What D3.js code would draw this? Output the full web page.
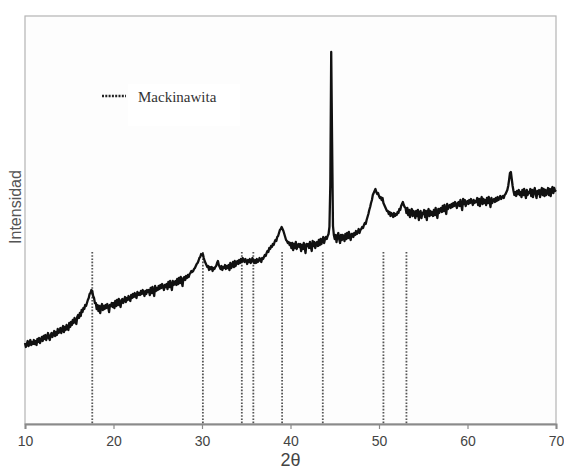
<!DOCTYPE html>
<html lang="es">
<head>
<meta charset="utf-8">
<title>DRX Mackinawita</title>
<script src="https://cdn.jsdelivr.net/npm/d3@7/dist/d3.min.js"></script>
<style>
  body { margin: 0; background: #fff; }
</style>
</head>
<body>
<script>
// patron de difraccion leido a ojo, un valor cada 0.1 grados (10.0 .. 70.0)
var startAngle = 10
var stepAngle = 0.1
var intensity = [
  81,77,80,83,78,80,84,79,82,80,
  84,80,83,79,85,82,86,81,84,87,
  83,88,85,89,84,87,91,86,84,89,
  91,87,90,93,88,92,89,95,91,93,
  96,91,95,98,92,97,94,99,96,94,
  101,97,102,99,104,101,106,103,100,107,
  109,106,111,108,114,112,116,115,119,118,
  121,124,126,130,131,134,133,128,126,121,
  121,115,119,113,118,111,117,120,114,118,
  115,119,116,120,117,112,119,118,121,117,
  121,116,123,118,124,119,125,120,117,124,
  125,121,124,127,122,126,124,128,125,123,
  129,126,130,127,131,128,126,132,129,131,
  129,133,130,134,131,128,133,130,134,132,
  134,129,136,131,137,132,128,138,133,136,
  134,138,135,139,136,140,137,134,139,137,
  140,135,142,137,143,138,134,143,139,141,
  143,139,145,140,146,141,147,142,138,146,
  147,144,148,146,149,147,150,151,153,152,
  153,155,156,158,160,161,163,166,167,170,
  169,170,166,163,161,159,157,158,154,157,
  155,157,153,156,155,157,158,161,163,159,
  157,155,158,154,157,156,159,155,158,156,
  159,154,161,156,158,162,157,163,158,161,
  163,160,164,161,165,162,166,164,162,165,
  163,160,164,162,165,161,163,166,163,161,
  164,161,165,162,163,166,164,162,166,165,
  167,169,168,171,173,172,176,175,178,177,
  180,179,182,184,183,187,188,191,194,195,
  197,195,193,190,187,184,183,181,182,179,
  181,176,181,174,180,176,182,175,178,180,
  177,180,173,179,175,181,176,171,180,178,
  180,176,182,177,173,183,178,182,176,180,
  182,178,184,179,185,180,184,187,181,185,
  187,185,188,190,197,240,372,282,198,189,
  185,189,182,188,191,185,181,189,184,189,
  188,183,190,185,191,186,192,187,184,190,
  190,187,191,189,193,190,192,195,191,194,
  195,197,196,199,201,200,204,207,210,214,
  217,221,224,229,231,233,235,232,230,231,
  228,226,227,224,226,221,219,217,215,213,
  213,210,212,208,211,209,207,211,208,210,
  209,212,211,215,214,218,220,222,219,217,
  216,211,216,209,214,207,213,215,208,213,
  211,206,213,208,214,204,211,213,206,211,
  210,214,207,213,204,212,215,208,213,209,
  212,208,214,209,216,210,206,215,211,215,
  216,212,218,213,219,214,210,220,215,218,
  219,216,220,217,221,218,222,219,216,221,
  222,218,224,219,214,225,220,224,218,222,
  223,220,224,221,225,222,219,224,221,223,
  222,226,219,225,218,224,227,220,225,221,
  224,219,226,221,227,222,217,226,221,224,
  225,222,226,223,227,224,226,228,225,227,
  228,226,229,230,232,234,238,244,251,252,
  245,238,233,229,232,228,233,230,234,229,
  232,227,234,229,235,230,226,234,229,232,
  231,235,228,234,227,233,236,230,226,233,
  230,234,227,233,236,229,235,228,234,229,
  232,236,229,235,228,234,237,231,236,233,
  234
]

// posiciones de la mackinawita (lineas punteadas)
var mackinawita = [17.6, 30.1, 34.5, 35.8, 39.05, 43.65, 50.5, 53.1]
var refHeight = 172

var xTicks = [10, 20, 30, 40, 50, 60, 70]
var xLabel = "2θ"
var yLabel = "Intensidad"
var legendLabel = "Mackinawita"

var width = 564, height = 470
// ojo: "top" es window.top, no usarlo como variable
var plotLeft = 25, plotRight = 556, plotTop = 16, plotBottom = 424

var svg = d3.select("body").append("svg")
  .attr("width", width)
  .attr("height", height)

var x = d3.scaleLinear().domain([10, 70]).range([plotLeft, plotRight])
var y = d3.scaleLinear().domain([0, 408]).range([plotBottom, plotTop])

// fondo y marco
svg.append("rect")
  .attr("x", plotLeft).attr("y", plotTop)
  .attr("width", plotRight - plotLeft).attr("height", plotBottom - plotTop)
  .attr("fill", "#fdfdfd")
  .attr("stroke", "#b4b4b4")
  .attr("stroke-width", 1.2)

// cuadro blanco de la leyenda
svg.append("rect")
  .attr("x", 128).attr("y", 84)
  .attr("width", 112).attr("height", 42)
  .attr("fill", "#ffffff")

// lineas de referencia
svg.selectAll(".ref").data(mackinawita).enter().append("line")
  .attr("class", "ref")
  .attr("x1", function(d){ return x(d) })
  .attr("x2", function(d){ return x(d) })
  .attr("y1", y(refHeight))
  .attr("y2", y(0))
  .attr("stroke", "#555")
  .attr("stroke-width", 1.8)
  .attr("stroke-dasharray", "1.6,1.6")

// el patron
var points = intensity.map(function(v, i){
  return [startAngle + i * stepAngle, v]
})

var line = d3.line()
  .x(function(d){ return x(d[0]) })
  .y(function(d){ return y(d[1]) })

svg.append("path")
  .datum(points)
  .attr("d", line)
  .attr("fill", "none")
  .attr("stroke", "#111")
  .attr("stroke-width", 2.3)
  .attr("stroke-linejoin", "round")

// eje x
var xAxis = d3.axisBottom(x)
  .tickValues(xTicks)
  .tickSize(5)
  .tickPadding(7)

var gx = svg.append("g")
  .attr("transform", "translate(0," + plotBottom + ")")
  .call(xAxis)

gx.select(".domain").attr("stroke", "#8a8a8a").attr("stroke-width", 2)
gx.selectAll(".tick line").attr("stroke", "#8a8a8a").attr("stroke-width", 1.2)
gx.selectAll(".tick text")
  .attr("fill", "#444")
  .style("font-family", "Liberation Sans, Arial, sans-serif")
  .style("font-size", "14px")

svg.append("text")
  .attr("x", (plotLeft + plotRight) / 2)
  .attr("y", 466)
  .attr("text-anchor", "middle")
  .attr("fill", "#444")
  .style("font-family", "Liberation Sans, Arial, sans-serif")
  .style("font-size", "18px")
  .text(xLabel)

svg.append("text")
  .attr("transform", "translate(21,207) rotate(-90)")
  .attr("text-anchor", "middle")
  .attr("fill", "#555")
  .style("font-family", "Liberation Sans, Arial, sans-serif")
  .style("font-size", "16px")
  .text(yLabel)

// leyenda
svg.append("line")
  .attr("x1", 102).attr("x2", 126)
  .attr("y1", 96).attr("y2", 96)
  .attr("stroke", "#222")
  .attr("stroke-width", 2.6)
  .attr("stroke-dasharray", "2,1.3")

svg.append("text")
  .attr("x", 138).attr("y", 102)
  .attr("fill", "#333")
  .style("font-family", "Liberation Serif, Times New Roman, serif")
  .style("font-size", "15px")
  .text(legendLabel)

</script>
</body>
</html>
